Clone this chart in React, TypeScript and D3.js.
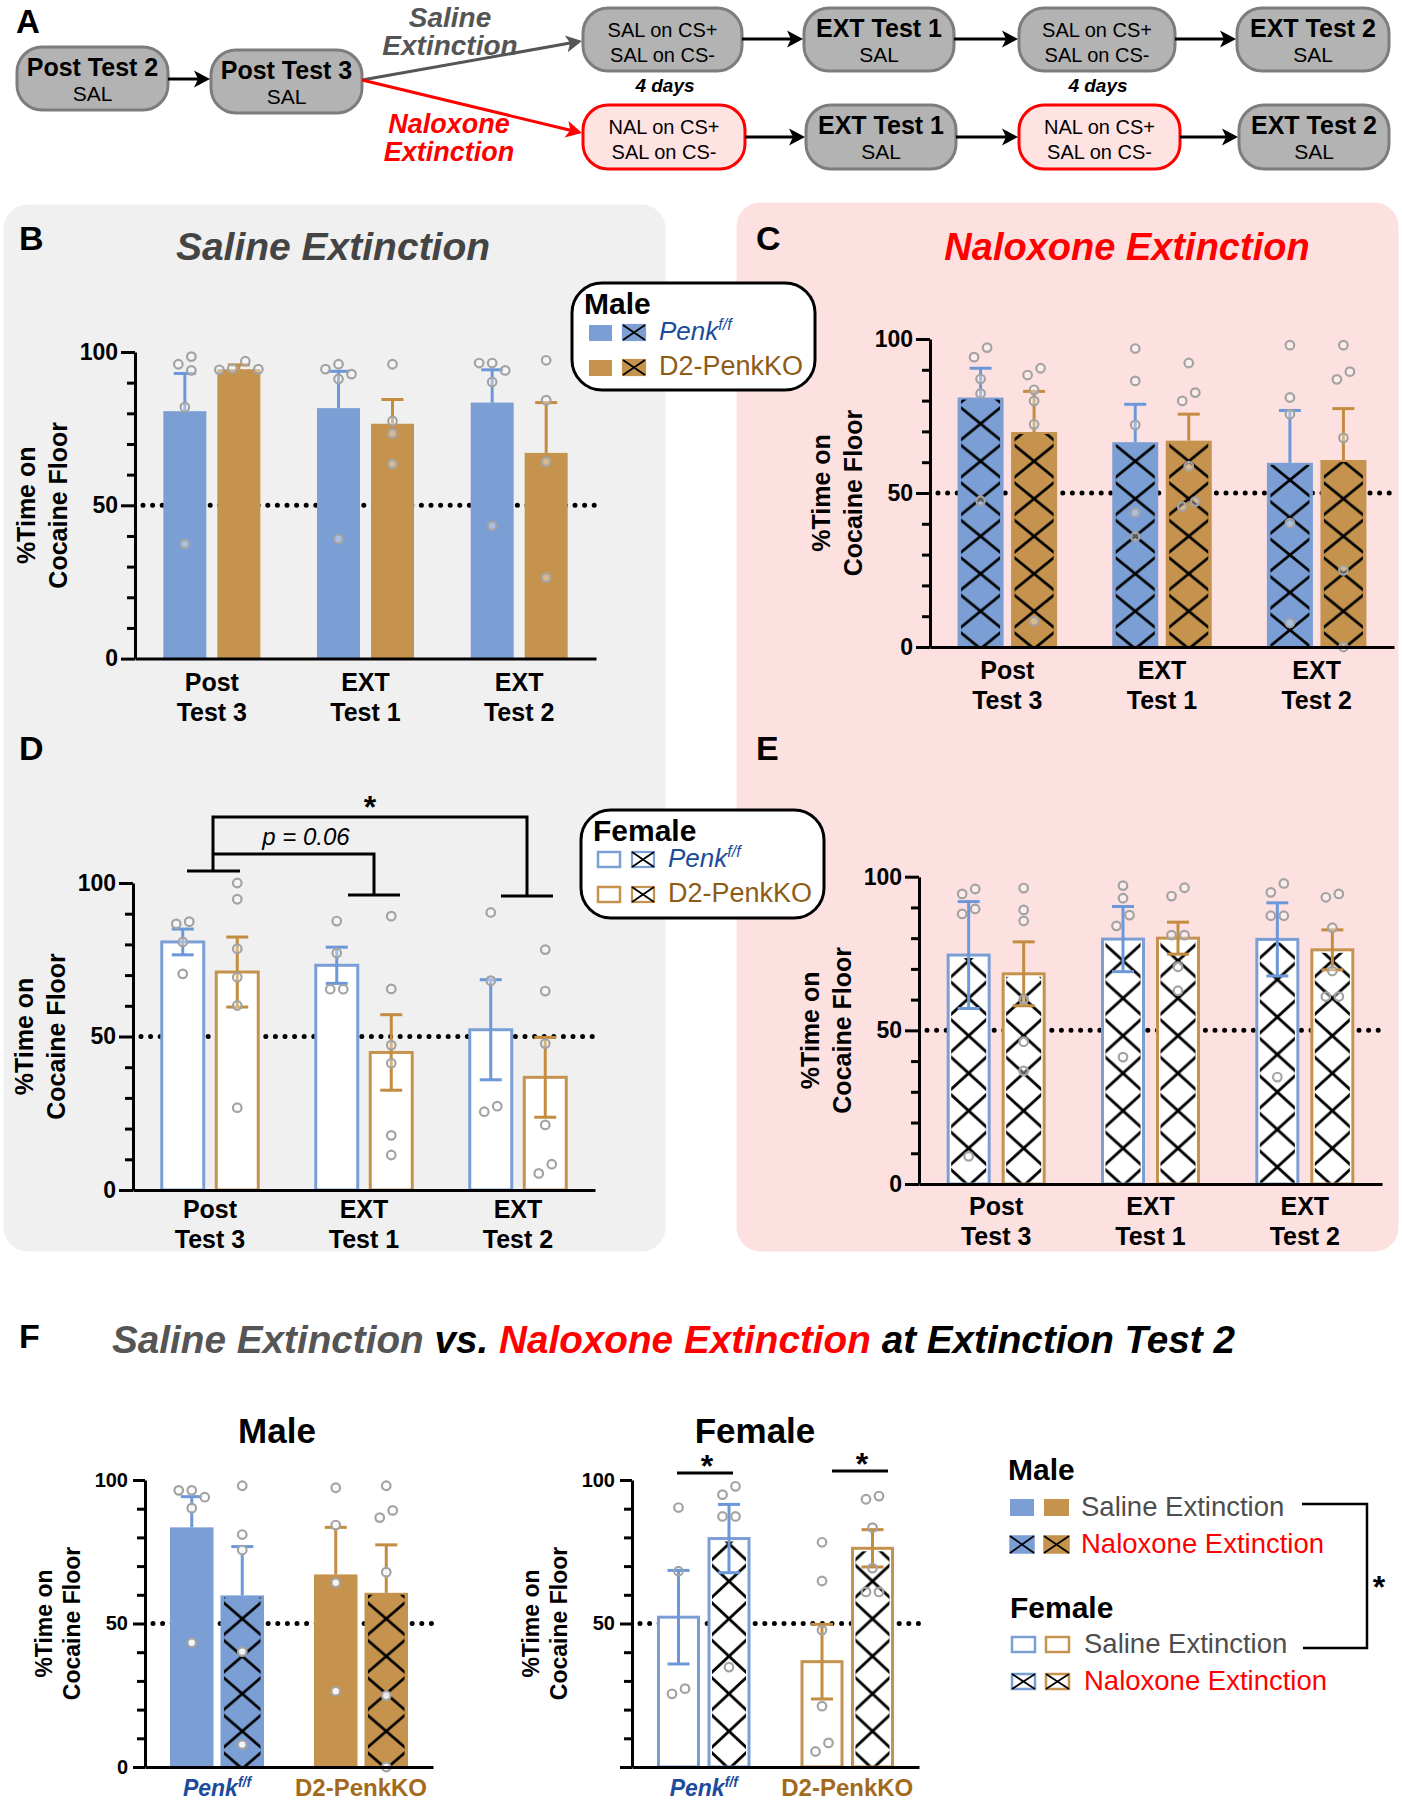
import React, { useEffect, useRef } from "react";
import * as d3 from "d3";

const FONT = "'Liberation Sans', Arial, Helvetica, sans-serif";

// ---------------- data ----------------
const timeLabels: string[][] = [["Post", "Test 3"], ["EXT", "Test 1"], ["EXT", "Test 2"]];
const genotypeNames = ["Penk", "D2-PenkKO"];
const penkSup = "f/f";
const extinctionNames = ["Saline Extinction", "Naloxone Extinction"];
const sexNames = ["Male", "Female"];

// B – Male, saline extinction
const maleSalPenkMean = [80.7, 81.7, 83.5];
const maleSalPenkSem = [12.3, 12.0, 10.7];
const maleSalPenkPts = [[98.5, 96, 94, 82, 37.4], [96, 94.4, 92.8, 91.2, 39], [96.4, 96.4, 94, 90.2, 43.3]];
const maleSalKoMean = [94.4, 76.6, 67.1];
const maleSalKoSem = [1.4, 7.9, 16.4];
const maleSalKoPts = [[97, 94.6, 94.4, 94.2], [96, 77.5, 73.4, 63.5], [97.3, 84.3, 64.2, 26.4]];

// C – Male, naloxone extinction
const maleNalPenkMean = [81.0, 66.5, 59.8];
const maleNalPenkSem = [9.5, 12.3, 17.0];
const maleNalPenkPts = [[97.2, 94.1, 87, 82.3, 47.5], [96.9, 86.4, 72.1, 43.6, 35.8], [98, 81, 75.6, 40.2, 7.8]];
const maleNalKoMean = [69.8, 67.0, 60.7];
const maleNalKoSem = [13.2, 8.6, 16.7];
const maleNalKoPts = [[90.5, 88.3, 83.5, 79.9, 72.3, 8.4], [92.2, 82.6, 79.9, 58.7, 47.2, 45.6], [98, 89.4, 86.9, 67.9, 24.9, 0]];

// D – Female, saline extinction
const femSalPenkMean = [80.8, 73.2, 52.2];
const femSalPenkSem = [4.2, 5.9, 16.3];
const femSalPenkPts = [[87.4, 86.7, 80.8, 70.4], [87.6, 77.2, 65.4, 65.4], [90.4, 68.2, 27.3, 25.5]];
const femSalKoMean = [71.0, 44.8, 36.7];
const femSalKoSem = [11.4, 12.3, 13.0];
const femSalKoPts = [[100, 94.7, 78.6, 69.3, 60.1, 26.8], [89.2, 65.5, 47.2, 41.3, 17.8, 11.4], [78.3, 64.8, 47.7, 21.2, 8.4, 5.4]];

// E – Female, naloxone extinction
const femNalPenkMean = [74.5, 79.7, 79.6];
const femNalPenkSem = [17.4, 10.6, 11.9];
const femNalPenkPts = [[96, 94.4, 89.5, 87.9, 9], [97.1, 93, 87.5, 84, 41.3], [97.8, 94.9, 87.3, 87.3, 34.8]];
const femNalKoMean = [68.4, 80.0, 76.2];
const femNalKoSem = [10.4, 5.2, 6.5];
const femNalKoPts = [[96.3, 89.2, 85.6, 60.1, 46.3, 36.8], [96.4, 93.7, 81, 81, 70.7, 62.9], [94.4, 93.3, 83.4, 69.3, 61, 61]];

const majorTicks = [0, 50, 100];
const minorTicks = [10, 20, 30, 40, 60, 70, 80, 90];
const chanceLevel = 50;
const yTitle = ["%Time on", "Cocaine Floor"];

// Panel A flow text
const flowStart = [["Post Test 2", "SAL"], ["Post Test 3", "SAL"]];
const salRow = [["SAL on CS+", "SAL on CS-"], ["EXT Test 1", "SAL"], ["SAL on CS+", "SAL on CS-"], ["EXT Test 2", "SAL"]];
const nalRow = [["NAL on CS+", "SAL on CS-"], ["EXT Test 1", "SAL"], ["NAL on CS+", "SAL on CS-"], ["EXT Test 2", "SAL"]];
const conditioningDays = "4 days";

// ---------------- styles ----------------
const BLUE = "#7b9fd4";
const GOLD = "#c5934d";
const BLUE_ERR = "#6c98da";
const GOLD_ERR = "#c48c40";
const BLUE_TXT = "#1c4b9b";
const GOLD_TXT = "#8e5c16";
const RED = "#ff0000";
const GREY_TXT = "#4d4d4d";

type BarSpec = {
  group: number; sub: number; mean: number; sem: number; pts: number[];
  color: string; err: string; hollow: boolean; hatch: boolean; diamond?: boolean;
};

type ChartCfg = {
  id: string; x0: number; x1: number; yTop: number; yBot: number;
  nGroups: number; step: number; barW: number; bars: BarSpec[];
  tickFont: number; tickSize: number; tickPad: number; showZero: boolean;
  titleFont: number; titleOff1: number; titleOff2: number;
  ptFillOpacity: number; dotEnd: number;
  labels: (cx: number, y0: number, i: number) => React.ReactNode;
};

function timeBars(
  pm: number[], ps: number[], pp: number[][], km: number[], ks: number[], kp: number[][],
  hollow: boolean, hatch: boolean
): BarSpec[] {
  const out: BarSpec[] = [];
  for (let t = 0; t < 3; t++) {
    out.push({ group: t, sub: 0, mean: pm[t], sem: ps[t], pts: pp[t], color: BLUE, err: BLUE_ERR, hollow, hatch, diamond: hatch && t === 2 });
    out.push({ group: t, sub: 1, mean: km[t], sem: ks[t], pts: kp[t], color: GOLD, err: GOLD_ERR, hollow, hatch });
  }
  return out;
}

function swarm(vals: number[], y: (v: number) => number, step: number, minDist: number): number[] {
  const order = vals.map((_, i) => i).sort((a, b) => vals[b] - vals[a]);
  const placed: { x: number; y: number }[] = [];
  const out = new Array(vals.length).fill(0);
  for (const i of order) {
    const py = y(vals[i]);
    for (let k = 0; k < 30; k++) {
      const cand = k === 0 ? 0 : (k % 2 === 1 ? -Math.ceil(k / 2) * step : Math.ceil(k / 2) * step);
      if (placed.every((p) => Math.hypot(p.x - cand, p.y - py) >= minDist)) {
        out[i] = cand;
        placed.push({ x: cand, y: py });
        break;
      }
    }
  }
  const ys = order.map((i) => y(vals[i]));
  let start = 0;
  for (let k = 1; k <= order.length; k++) {
    if (k === order.length || ys[k] - ys[k - 1] >= minDist) {
      const idx = order.slice(start, k);
      const xs = idx.map((i) => out[i]);
      const shift = -(Math.min(...xs) + Math.max(...xs)) / 2;
      idx.forEach((i) => (out[i] += shift));
      start = k;
    }
  }
  return out;
}

function BarChart({ c }: { c: ChartCfg }) {
  const axRef = useRef<SVGGElement>(null);
  const y = d3.scaleLinear().domain([0, 100]).range([c.yBot, c.yTop]);
  const gx = d3.scaleBand<number>().domain(d3.range(c.nGroups)).range([c.x0, c.x1]);
  const sx = d3.scaleBand<number>().domain([0, 1]).range([-c.step, c.step]);

  useEffect(() => {
    const g = d3.select(axRef.current!);
    g.selectAll("*").remove();
    const gy = g.append("g").attr("transform", `translate(${c.x0},0)`);
    gy.append("g")
      .call(d3.axisLeft(y).tickValues(minorTicks).tickSize(8).tickFormat(() => ""))
      .call((s) => s.select(".domain").remove());
    gy.append("g").call(
      d3.axisLeft(y).tickValues(majorTicks).tickSize(c.tickSize).tickSizeOuter(0).tickPadding(c.tickPad)
        .tickFormat((v) => (!c.showZero && +v === 0 ? "" : String(v)))
    );
    const gb = g.append("g").attr("transform", `translate(0,${c.yBot})`);
    gb.call(d3.axisBottom(gx).tickSize(0).tickSizeOuter(0).tickFormat(() => ""));
    g.selectAll("path.domain, line").attr("stroke", "#000").attr("stroke-width", 3);
    g.selectAll("text").attr("font-family", FONT).attr("font-size", c.tickFont)
      .attr("font-weight", "bold").attr("fill", "#000");
  }, []);

  const y0 = y(0);
  const sw = 3;
  const hh = 37.5;
  const geom = (b: BarSpec) => {
    const gc = gx(b.group)! + gx.bandwidth() / 2;
    const bx = gc + sx(b.sub)! + (sx.bandwidth() - c.barW) / 2;
    const tileX = b.hollow ? bx + sw / 2 : bx;
    const tileW = b.hollow ? c.barW - sw : c.barW;
    const m = b.hollow ? sw + 1.5 : 3.5;
    return { bx, tileX, tileW, m };
  };
  return (
    <g>
      <defs>
        {c.bars.filter((b) => b.hatch).map((b, k) => {
          const { tileX, tileW } = geom(b);
          const w = tileW, h = hh;
          return (
            <pattern key={k} id={`${c.id}-h-${b.group}-${b.sub}`} patternUnits="userSpaceOnUse"
              x={tileX + (b.diamond ? w / 2 : 0)} y={y0 - 17} width={w} height={h}>
              <path d={`M${-w * 0.2},${-h * 0.2}L${w * 1.2},${h * 1.2}M${w * 1.2},${-h * 0.2}L${-w * 0.2},${h * 1.2}`}
                stroke="#000" strokeWidth={2.8} fill="none" />
            </pattern>
          );
        })}
      </defs>
      <line x1={c.x0 + 8} x2={c.dotEnd} y1={y(chanceLevel)} y2={y(chanceLevel)} stroke="#000"
        strokeWidth={5} strokeDasharray="0 9.6" strokeLinecap="round" />
      {c.bars.map((b, k) => {
        const { bx, m } = geom(b);
        const cx = bx + c.barW / 2;
        const top = y(b.mean);
        const pid = `url(#${c.id}-h-${b.group}-${b.sub})`;
        const offs = swarm(b.pts, y, 13, 11);
        const capW = 22;
        const eTop = y(b.mean + b.sem);
        const eBot = b.hollow ? y(b.mean - b.sem) : top;
        const hTop = top + (b.hollow ? sw : 2);
        return (
          <g key={k}>
            {b.hollow ? (
              <rect x={bx + sw / 2} y={top} width={c.barW - sw} height={y0 - top} fill="#fff" />
            ) : (
              <rect x={bx} y={top} width={c.barW} height={y0 - top} fill={b.color} />
            )}
            {b.hatch && <rect x={bx + m} y={hTop} width={c.barW - 2 * m} height={Math.max(0, y0 - hTop)} fill={pid} />}
            {b.hollow && (
              <rect x={bx + sw / 2} y={top} width={c.barW - sw} height={y0 - top} fill="none" stroke={b.color} strokeWidth={sw} />
            )}
            <line x1={cx} x2={cx} y1={eTop} y2={eBot} stroke={b.err} strokeWidth={3} />
            <line x1={cx - capW / 2} x2={cx + capW / 2} y1={eTop} y2={eTop} stroke={b.err} strokeWidth={3} />
            {b.hollow && <line x1={cx - capW / 2} x2={cx + capW / 2} y1={eBot} y2={eBot} stroke={b.err} strokeWidth={3} />}
            {b.pts.map((v, i) => (
              <circle key={i} cx={cx + offs[i]} cy={y(v)} r={4.3} fill="#fff" fillOpacity={c.ptFillOpacity}
                stroke="#a3a3a3" strokeWidth={2.2} />
            ))}
          </g>
        );
      })}
      <g ref={axRef} />
      {d3.range(c.nGroups).map((i) => (
        <g key={i}>{c.labels(gx(i)! + gx.bandwidth() / 2, y0, i)}</g>
      ))}
      <text transform={`translate(${c.x0 - c.titleOff1},${y(50)}) rotate(-90)`} textAnchor="middle"
        fontWeight="bold" fontSize={c.titleFont}>{yTitle[0]}</text>
      <text transform={`translate(${c.x0 - c.titleOff2},${y(50)}) rotate(-90)`} textAnchor="middle"
        fontWeight="bold" fontSize={c.titleFont}>{yTitle[1]}</text>
    </g>
  );
}

function timeLabel(d1: number, d2: number) {
  return (cx: number, y0: number, i: number) => (
    <text textAnchor="middle" fontWeight="bold" fontSize={25}>
      <tspan x={cx} y={y0 + d1}>{timeLabels[i][0]}</tspan>
      <tspan x={cx} y={y0 + d2}>{timeLabels[i][1]}</tspan>
    </text>
  );
}

function genoLabel(cx: number, y0: number, i: number) {
  return i === 0 ? (
    <text x={cx} y={y0 + 29} textAnchor="middle" fontWeight="bold" fontStyle="italic" fontSize={23} fill={BLUE_TXT}>
      {genotypeNames[0]}<tspan dy={-9} fontSize={14}>{penkSup}</tspan>
    </text>
  ) : (
    <text x={cx} y={y0 + 29} textAnchor="middle" fontWeight="bold" fontSize={24} fill="#a36a1c">
      {genotypeNames[1]}
    </text>
  );
}

const baseCfg = {
  nGroups: 3, tickFont: 23, tickSize: 14, tickPad: 3, showZero: true,
  titleFont: 25, titleOff1: 100, titleOff2: 68, ptFillOpacity: 0.35,
};

const cfgB: ChartCfg = {
  ...baseCfg, id: "B", x0: 135, x1: 596, yTop: 352, yBot: 658.6, step: 54, barW: 43, dotEnd: 596,
  bars: timeBars(maleSalPenkMean, maleSalPenkSem, maleSalPenkPts, maleSalKoMean, maleSalKoSem, maleSalKoPts, false, false),
  labels: timeLabel(32, 62),
};
const cfgC: ChartCfg = {
  ...baseCfg, id: "C", x0: 930, x1: 1394, yTop: 339, yBot: 647, step: 53.5, barW: 46, dotEnd: 1394,
  bars: timeBars(maleNalPenkMean, maleNalPenkSem, maleNalPenkPts, maleNalKoMean, maleNalKoSem, maleNalKoPts, false, true),
  labels: timeLabel(32, 62),
};
const cfgD: ChartCfg = {
  ...baseCfg, id: "D", x0: 133, x1: 595, yTop: 883, yBot: 1190, step: 54.5, barW: 45, dotEnd: 594,
  bars: timeBars(femSalPenkMean, femSalPenkSem, femSalPenkPts, femSalKoMean, femSalKoSem, femSalKoPts, true, false),
  labels: timeLabel(28, 58),
};
const cfgE: ChartCfg = {
  ...baseCfg, id: "E", x0: 919, x1: 1382, yTop: 876.7, yBot: 1184, step: 55, barW: 44, dotEnd: 1382,
  bars: timeBars(femNalPenkMean, femNalPenkSem, femNalPenkPts, femNalKoMean, femNalKoSem, femNalKoPts, true, true),
  labels: timeLabel(31, 61),
};

const T2 = 2; // Extinction Test 2 index
const cfgFM: ChartCfg = {
  ...baseCfg, id: "FM", nGroups: 2, x0: 145, x1: 433, yTop: 1480, yBot: 1767, step: 50.5, barW: 43.5, dotEnd: 433,
  tickFont: 20, tickSize: 12, tickPad: 5, titleFont: 23, titleOff1: 93, titleOff2: 65, ptFillOpacity: 0.9,
  bars: [
    { group: 0, sub: 0, mean: maleSalPenkMean[T2], sem: maleSalPenkSem[T2], pts: maleSalPenkPts[T2], color: BLUE, err: BLUE_ERR, hollow: false, hatch: false },
    { group: 0, sub: 1, mean: maleNalPenkMean[T2], sem: maleNalPenkSem[T2], pts: maleNalPenkPts[T2], color: BLUE, err: BLUE_ERR, hollow: false, hatch: true },
    { group: 1, sub: 0, mean: maleSalKoMean[T2], sem: maleSalKoSem[T2], pts: maleSalKoPts[T2], color: GOLD, err: GOLD_ERR, hollow: false, hatch: false },
    { group: 1, sub: 1, mean: maleNalKoMean[T2], sem: maleNalKoSem[T2], pts: maleNalKoPts[T2], color: GOLD, err: GOLD_ERR, hollow: false, hatch: true },
  ],
  labels: genoLabel,
};
const cfgFF: ChartCfg = {
  ...baseCfg, id: "FF", nGroups: 2, x0: 632, x1: 919, yTop: 1480, yBot: 1767, step: 50.5, barW: 43, dotEnd: 919,
  tickFont: 20, tickSize: 12, tickPad: 5, titleFont: 23, titleOff1: 93, titleOff2: 65, showZero: false, ptFillOpacity: 0,
  bars: [
    { group: 0, sub: 0, mean: femSalPenkMean[T2], sem: femSalPenkSem[T2], pts: femSalPenkPts[T2], color: BLUE, err: BLUE_ERR, hollow: true, hatch: false },
    { group: 0, sub: 1, mean: femNalPenkMean[T2], sem: femNalPenkSem[T2], pts: femNalPenkPts[T2], color: BLUE, err: BLUE_ERR, hollow: true, hatch: true },
    { group: 1, sub: 0, mean: femSalKoMean[T2], sem: femSalKoSem[T2], pts: femSalKoPts[T2], color: GOLD, err: GOLD_ERR, hollow: true, hatch: false },
    { group: 1, sub: 1, mean: femNalKoMean[T2], sem: femNalKoSem[T2], pts: femNalKoPts[T2], color: GOLD, err: GOLD_ERR, hollow: true, hatch: true },
  ],
  labels: genoLabel,
};

// ---------------- panel A ----------------
function Arrow({ x1, y1, x2, y2, color, w = 3, head = 16, hw = 8.5 }:
  { x1: number; y1: number; x2: number; y2: number; color: string; w?: number; head?: number; hw?: number }) {
  const a = Math.atan2(y2 - y1, x2 - x1);
  const bx = x2 - head * Math.cos(a), by = y2 - head * Math.sin(a);
  const px = -Math.sin(a) * hw, py = Math.cos(a) * hw;
  const nx = bx + 4 * Math.cos(a), ny = by + 4 * Math.sin(a);
  return (
    <g>
      <line x1={x1} y1={y1} x2={nx} y2={ny} stroke={color} strokeWidth={w} />
      <path d={`M${x2},${y2}L${bx + px},${by + py}L${nx},${ny}L${bx - px},${by - py}Z`} fill={color} />
    </g>
  );
}

function FlowBox({ x1, y1, x2, y2, lines, pink, boldFirst }:
  { x1: number; y1: number; x2: number; y2: number; lines: string[]; pink?: boolean; boldFirst?: boolean }) {
  const cx = (x1 + x2) / 2, cy = (y1 + y2) / 2;
  return (
    <g>
      <rect x={x1} y={y1} width={x2 - x1} height={y2 - y1} rx={25}
        fill={pink ? "#ffe3e3" : "#b3b3b3"} stroke={pink ? RED : "#7d7d7d"} strokeWidth={3} />
      <text x={cx} y={cy - 3} textAnchor="middle" fontSize={boldFirst ? 25 : 20} fontWeight={boldFirst ? "bold" : "normal"}>{lines[0]}</text>
      <text x={cx} y={cy + 22} textAnchor="middle" fontSize={boldFirst ? 21 : 20}>{lines[1]}</text>
    </g>
  );
}

function PanelA() {
  const row1 = [[583, 742], [804, 954], [1019, 1175], [1237, 1389]];
  const row2 = [[583, 745], [806, 956], [1019, 1180], [1239, 1389]];
  return (
    <g>
      <text x={16} y={33} fontSize={33} fontWeight="bold">A</text>
      <FlowBox x1={17} y1={47} x2={168} y2={110} lines={flowStart[0]} boldFirst />
      <FlowBox x1={211} y1={50} x2={362} y2={113} lines={flowStart[1]} boldFirst />
      <Arrow x1={168} y1={79} x2={210} y2={79} color="#000" />
      <Arrow x1={362} y1={80} x2={582} y2={41} color="#555" />
      <Arrow x1={362} y1={80} x2={582} y2={133} color={RED} />
      <text x={450} y={27} textAnchor="middle" fontSize={28} fontWeight="bold" fontStyle="italic" fill="#555">Saline</text>
      <text x={450} y={55} textAnchor="middle" fontSize={28} fontWeight="bold" fontStyle="italic" fill="#555">Extinction</text>
      <text x={449} y={133} textAnchor="middle" fontSize={27} fontWeight="bold" fontStyle="italic" fill={RED}>Naloxone</text>
      <text x={449} y={161} textAnchor="middle" fontSize={27} fontWeight="bold" fontStyle="italic" fill={RED}>Extinction</text>
      {salRow.map((l, i) => (
        <FlowBox key={i} x1={row1[i][0]} y1={8} x2={row1[i][1]} y2={71} lines={l} boldFirst={i % 2 === 1} />
      ))}
      {nalRow.map((l, i) => (
        <FlowBox key={i} x1={row2[i][0]} y1={105} x2={row2[i][1]} y2={169} lines={l} boldFirst={i % 2 === 1} pink={i % 2 === 0} />
      ))}
      {[0, 1, 2].map((i) => (
        <Arrow key={i} x1={row1[i][1]} y1={39} x2={row1[i + 1][0] - 1} y2={39} color="#000" />
      ))}
      {[0, 1, 2].map((i) => (
        <Arrow key={i} x1={row2[i][1]} y1={137} x2={row2[i + 1][0] - 1} y2={137} color="#000" />
      ))}
      <text x={665} y={92} textAnchor="middle" fontSize={19} fontWeight="bold" fontStyle="italic">{conditioningDays}</text>
      <text x={1098} y={92} textAnchor="middle" fontSize={19} fontWeight="bold" fontStyle="italic">{conditioningDays}</text>
    </g>
  );
}

function XRect({ x, y, w, h, fill, stroke, sw = 2 }: { x: number; y: number; w: number; h: number; fill: string; stroke: string; sw?: number }) {
  return (
    <g>
      <rect x={x} y={y} width={w} height={h} fill={fill} stroke={stroke} strokeWidth={sw} />
      <path d={`M${x},${y}L${x + w},${y + h}M${x + w},${y}L${x},${y + h}`} stroke="#000" strokeWidth={1.8} />
    </g>
  );
}

function GenoLegend({ x, y, w, h, sex, hollow }: { x: number; y: number; w: number; h: number; sex: string; hollow: boolean }) {
  const rowY = [y + 42, y + 77];
  const cols = [BLUE, GOLD];
  return (
    <g>
      <rect x={x} y={y} width={w} height={h} rx={30} fill="#fff" stroke="#000" strokeWidth={3} />
      <text x={x + 12} y={y + 31} fontSize={30} fontWeight="bold">{sex}</text>
      {cols.map((c, i) => (
        <g key={i}>
          {hollow ? (
            <rect x={x + 17} y={rowY[i]} width={22} height={15} fill="#fff" stroke={c} strokeWidth={2.5} />
          ) : (
            <rect x={x + 17} y={rowY[i]} width={23} height={16} fill={c} />
          )}
          <XRect x={x + 51} y={rowY[i]} w={22} h={15} fill={hollow ? "#fff" : c} stroke={c} sw={2.2} />
        </g>
      ))}
      <text x={x + 87} y={rowY[0] + 15} fontSize={26} fontStyle="italic" fill={BLUE_TXT}>
        {genotypeNames[0]}<tspan dy={-10} fontSize={16}>{penkSup}</tspan>
      </text>
      <text x={x + 87} y={rowY[1] + 15} fontSize={27} fill={GOLD_TXT}>{genotypeNames[1]}</text>
    </g>
  );
}

function LegendF() {
  return (
    <g>
      <text x={1008} y={1480} fontSize={30} fontWeight="bold">{sexNames[0]}</text>
      <rect x={1010} y={1499} width={24} height={17} fill={BLUE} />
      <rect x={1044} y={1499} width={25} height={17} fill={GOLD} />
      <text x={1081} y={1516} fontSize={27.5} fill={GREY_TXT}>{extinctionNames[0]}</text>
      <XRect x={1010} y={1536} w={24} h={17} fill={BLUE} stroke={BLUE} sw={1.5} />
      <XRect x={1044} y={1536} w={25} h={17} fill={GOLD} stroke={GOLD} sw={1.5} />
      <text x={1081} y={1553} fontSize={27.5} fill={RED}>{extinctionNames[1]}</text>
      <text x={1010} y={1618} fontSize={30} fontWeight="bold">{sexNames[1]}</text>
      <rect x={1012} y={1637} width={23} height={15} fill="#fff" stroke={BLUE} strokeWidth={2.5} />
      <rect x={1046} y={1637} width={23} height={15} fill="#fff" stroke={GOLD} strokeWidth={2.5} />
      <text x={1084} y={1653} fontSize={27.5} fill={GREY_TXT}>{extinctionNames[0]}</text>
      <XRect x={1012} y={1674} w={23} h={15} fill="#fff" stroke={BLUE} sw={2.5} />
      <XRect x={1046} y={1674} w={23} h={15} fill="#fff" stroke={GOLD} sw={2.5} />
      <text x={1084} y={1690} fontSize={27.5} fill={RED}>{extinctionNames[1]}</text>
      <path d="M1302,1504H1367V1648H1303" fill="none" stroke="#000" strokeWidth={2.5} />
      <text x={1379} y={1598} textAnchor="middle" fontSize={32} fontWeight="bold">*</text>
    </g>
  );
}

export default function App() {
  return (
    <svg width={1402} height={1800} viewBox="0 0 1402 1800" fontFamily={FONT}
      style={{ position: "absolute", left: 0, top: 0, background: "#fff" }}>
      <rect width={1402} height={1800} fill="#fff" />
      <PanelA />
      <rect x={3.5} y={204.5} width={662} height={1047} rx={24} fill="#f0f0f0" />
      <rect x={736.5} y={202.5} width={662} height={1049} rx={24} fill="#fde1e1" />

      <text x={19} y={250} fontSize={34} fontWeight="bold">B</text>
      <text x={756} y={250} fontSize={34} fontWeight="bold">C</text>
      <text x={19} y={760} fontSize={34} fontWeight="bold">D</text>
      <text x={756} y={760} fontSize={34} fontWeight="bold">E</text>
      <text x={333} y={260} textAnchor="middle" fontSize={39} fontWeight="bold" fontStyle="italic" fill="#444">{extinctionNames[0]}</text>
      <text x={1127} y={260} textAnchor="middle" fontSize={38} fontWeight="bold" fontStyle="italic" fill={RED}>{extinctionNames[1]}</text>

      <BarChart c={cfgB} />
      <BarChart c={cfgC} />
      <BarChart c={cfgD} />
      <BarChart c={cfgE} />

      {/* D significance */}
      <g fill="none" stroke="#000" strokeWidth={3}>
        <path d="M213,871V817H527V896" />
        <path d="M187,871H240M501,896H553" />
        <path d="M213,854H374V895" />
        <path d="M348,895H400" />
      </g>
      <text x={370} y={818} textAnchor="middle" fontSize={32} fontWeight="bold">*</text>
      <text x={306} y={845} textAnchor="middle" fontSize={24} fontStyle="italic">p = 0.06</text>

      <GenoLegend x={572} y={283} w={243} h={107} sex={sexNames[0]} hollow={false} />
      <GenoLegend x={581} y={810} w={243} h={108} sex={sexNames[1]} hollow={true} />

      {/* F */}
      <text x={19} y={1348} fontSize={34} fontWeight="bold">F</text>
      <text x={112} y={1353} fontSize={38.7} fontWeight="bold" fontStyle="italic">
        <tspan fill="#555">{extinctionNames[0]}</tspan>
        <tspan fill="#000"> vs. </tspan>
        <tspan fill={RED}>{extinctionNames[1]}</tspan>
        <tspan fill="#000"> at Extinction Test 2</tspan>
      </text>
      <text x={277} y={1443} textAnchor="middle" fontSize={35} fontWeight="bold">{sexNames[0]}</text>
      <text x={755} y={1443} textAnchor="middle" fontSize={35} fontWeight="bold">{sexNames[1]}</text>
      <BarChart c={cfgFM} />
      <BarChart c={cfgFF} />
      <g stroke="#000" strokeWidth={3}>
        <line x1={677} x2={733} y1={1473} y2={1473} />
        <line x1={832} x2={888} y1={1471} y2={1471} />
      </g>
      <text x={707} y={1477} textAnchor="middle" fontSize={32} fontWeight="bold">*</text>
      <text x={862} y={1475} textAnchor="middle" fontSize={32} fontWeight="bold">*</text>
      <LegendF />
    </svg>
  );
}
